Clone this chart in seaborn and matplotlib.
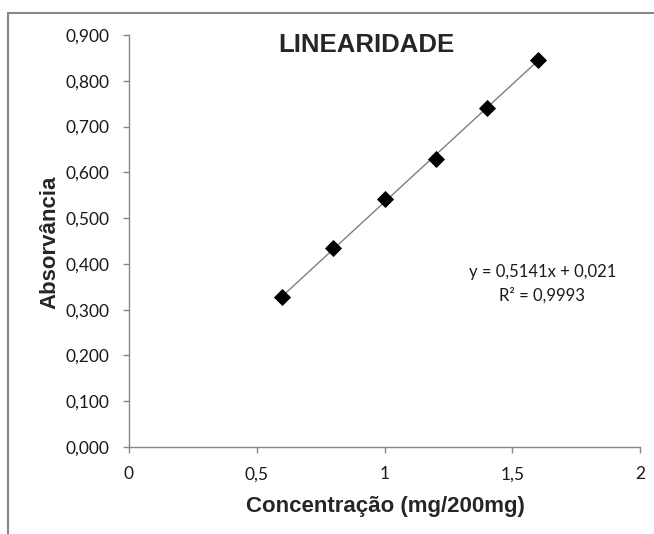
import matplotlib
matplotlib.use("Agg")
import matplotlib.pyplot as plt
import seaborn as sns
import numpy as np
import pandas as pd
from matplotlib.patches import Rectangle

# Data
concentracao = [0.6, 0.8, 1.0, 1.2, 1.4, 1.6]
absorvancia = [0.328, 0.434, 0.541, 0.630, 0.740, 0.846]
x_ticks = [0, 0.5, 1, 1.5, 2]
x_tick_labels = ["0", "0,5", "1", "1,5", "2"]
y_ticks = [0.0, 0.1, 0.2, 0.3, 0.4, 0.5, 0.6, 0.7, 0.8, 0.9]
y_tick_labels = ["0,000", "0,100", "0,200", "0,300", "0,400", "0,500",
                 "0,600", "0,700", "0,800", "0,900"]
slope = 0.5141
intercept = 0.021
r2 = 0.9993

df = pd.DataFrame({"x": concentracao, "y": absorvancia})

sns.set_style("white")
plt.rcParams["font.family"] = ["Lato", "DejaVu Sans"]
W, H = 654, 534
fig = plt.figure(figsize=(W / 100, H / 100), dpi=100)
ax = fig.add_axes([129/W, 1 - 447/H, (640 - 129)/W, (447 - 35)/H])

# trendline
xs = np.array([min(concentracao), max(concentracao)])
sns.lineplot(x=xs, y=slope * xs + intercept, ax=ax, color="#7f7f7f", linewidth=1.0)
sns.scatterplot(data=df, x="x", y="y", ax=ax, marker="D", s=65, color="black",
                edgecolor="black", zorder=3)

ax.set_xlim(0, 2)
ax.set_ylim(0, 0.9)
ax.set_xticks(x_ticks)
ax.set_xticklabels(x_tick_labels)
ax.set_yticks(y_ticks)
ax.set_yticklabels(y_tick_labels)
ax.tick_params(axis="both", which="major", direction="out", length=4.5,
               color="#868686", width=1, bottom=True, left=True,
               labelsize=12.5, labelcolor="#1a1a1a", pad=9.5)

for s in ["top", "right"]:
    ax.spines[s].set_visible(False)
for s in ["left", "bottom"]:
    ax.spines[s].set_color("#868686")
    ax.spines[s].set_linewidth(1)

ax.set_xlabel("")
ax.set_ylabel("")
fig.text(385/W, 1 - 512/H, "Concentração (mg/200mg)", ha="center", va="baseline",
         fontsize=16, fontweight="bold", family="Liberation Sans")
fig.text(55/W, 1 - 242/H, "Absorvância", ha="center", va="baseline", rotation=90,
         rotation_mode="anchor",
         fontsize=16, fontweight="bold", family="Liberation Sans")
fig.text(366/W, 1 - 52/H, "LINEARIDADE", ha="center", va="baseline",
         fontsize=18.5, fontweight="bold", family="Liberation Sans")

eq = f"y = {slope:.4f}x + {intercept:.3f}".replace(".", ",")
r2txt = f"R² = {r2:.4f}".replace(".", ",")
fig.text(543/W, 1 - 272/H, eq, ha="center", va="center", fontsize=12,
         color="#1a1a1a")
fig.text(542/W, 1 - 295/H, r2txt, ha="center", va="center", fontsize=12,
         color="#1a1a1a")

# outer chart border
fig.patches.append(Rectangle((8/W, -0.1), 1.2, 1 - 13/H + 0.1,
                             transform=fig.transFigure, fill=False,
                             edgecolor="#868686", linewidth=1.5))

fig.savefig("out.png", dpi=100)
